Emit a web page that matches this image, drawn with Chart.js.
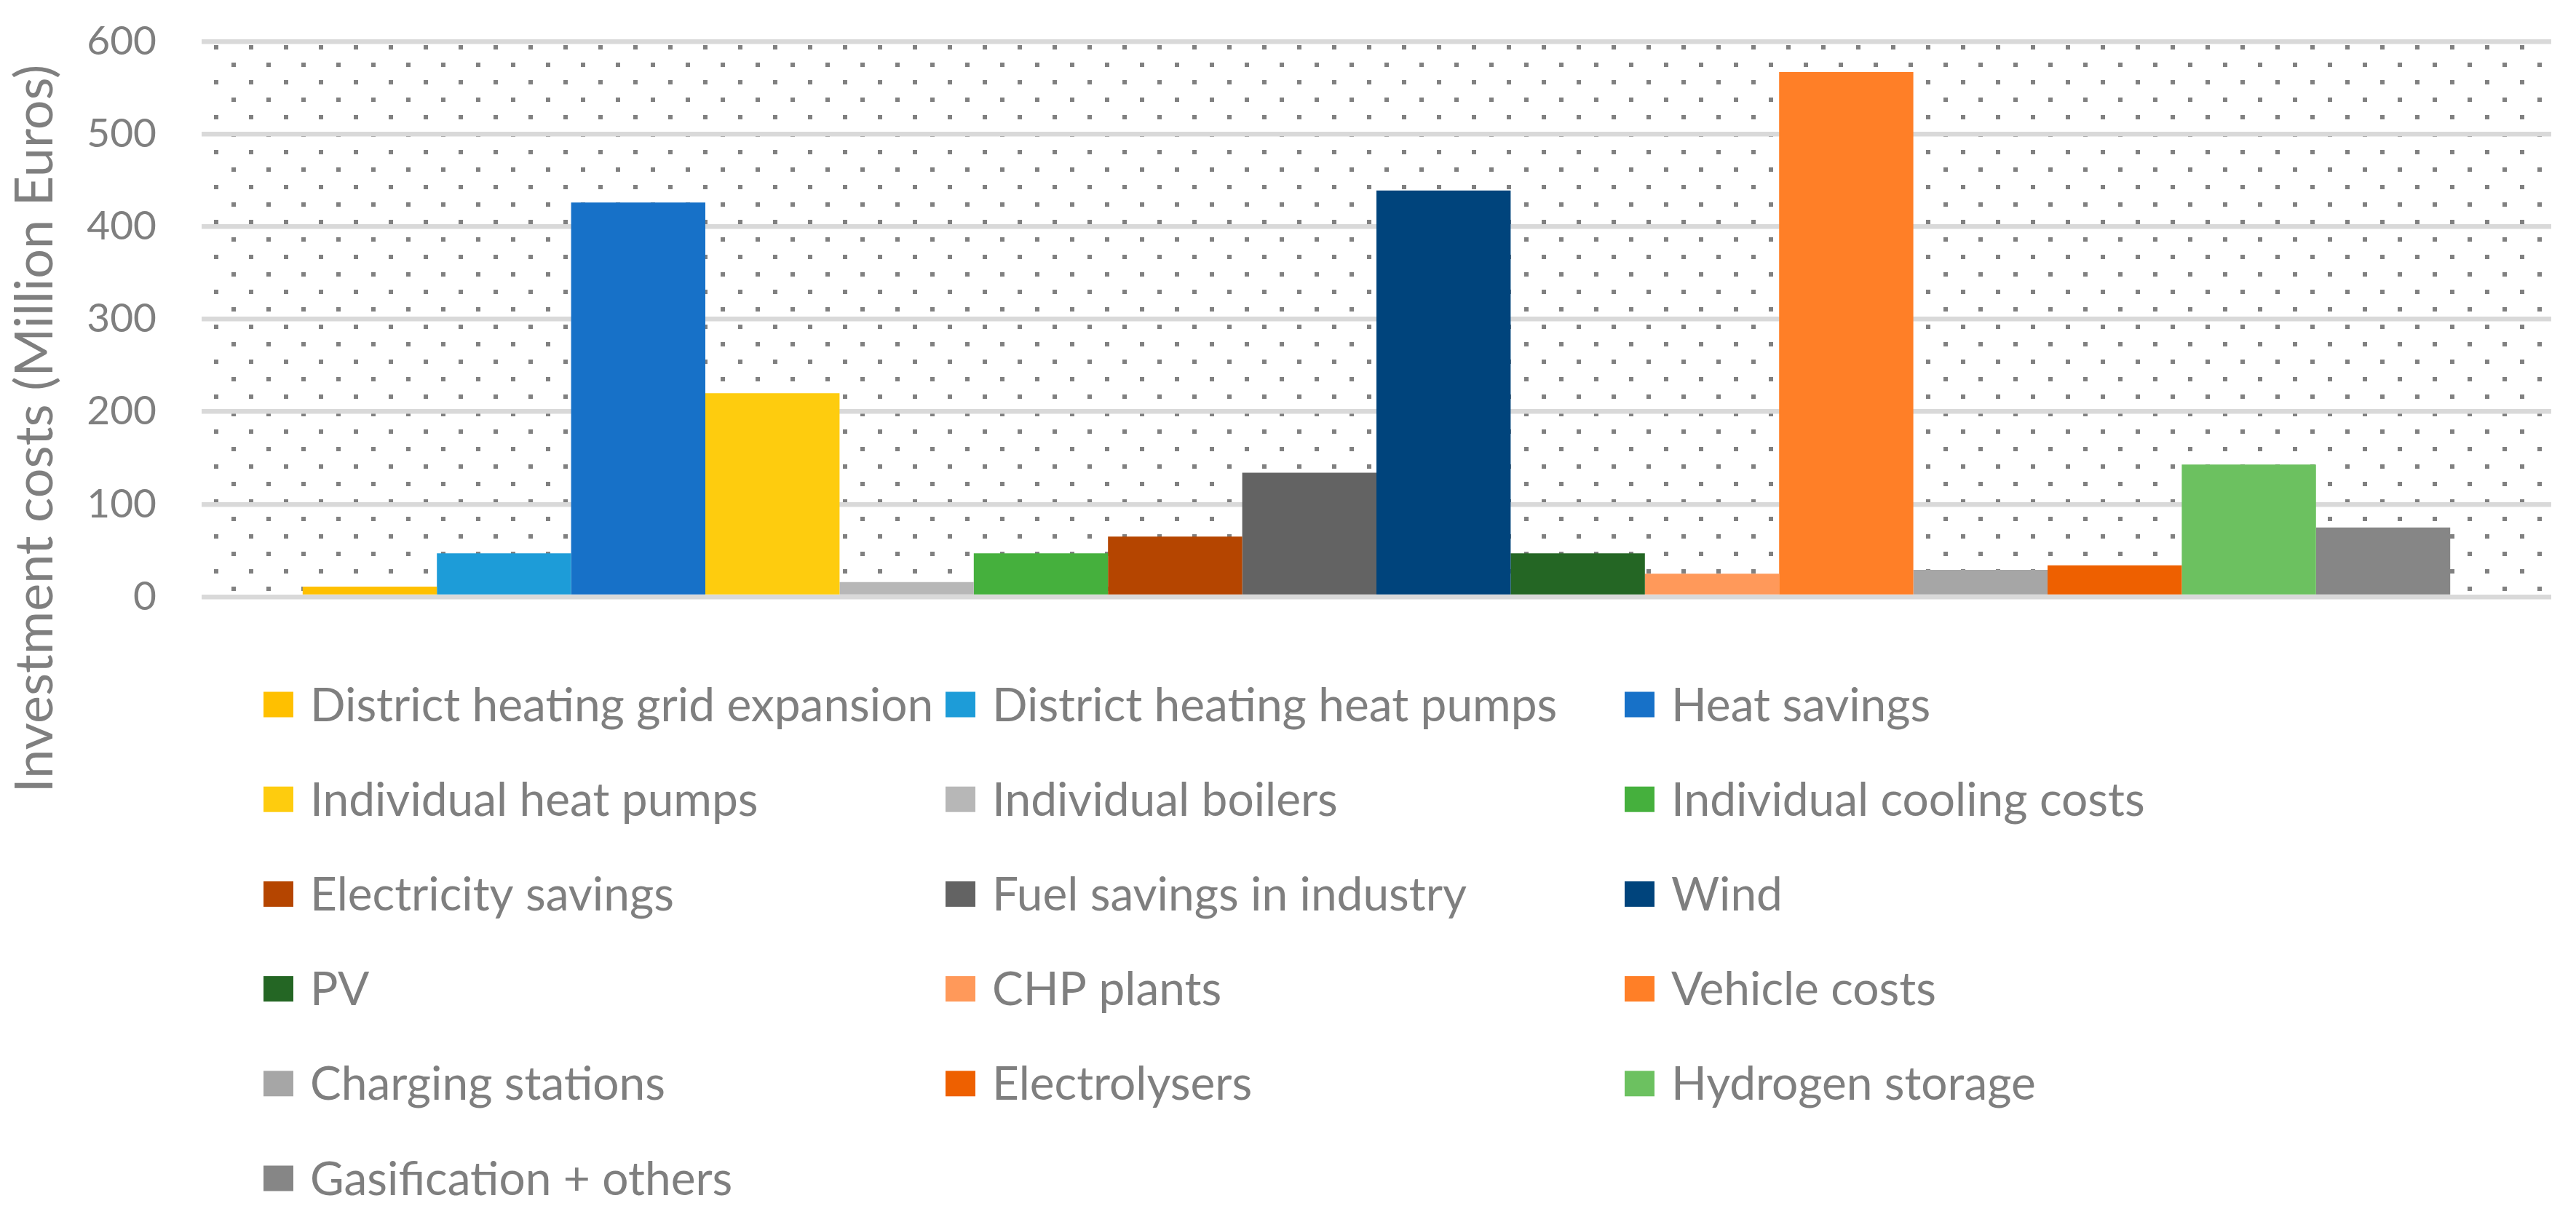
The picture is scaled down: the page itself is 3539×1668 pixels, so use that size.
<!DOCTYPE html>
<html>
<head>
<meta charset="utf-8">
<script src="https://cdn.jsdelivr.net/npm/chart.js@4.4.1/dist/chart.umd.min.js"></script>
<style>
  html, body { margin: 0; padding: 0; background: #ffffff; }
  canvas { display: block; }
</style>
</head>
<body>
<canvas id="chart" width="3539" height="1668"></canvas>
<script>
// ---------------- DATA ----------------
const categories = [""];
const seriesNames = [
  "District heating grid expansion",
  "District heating heat pumps",
  "Heat savings",
  "Individual heat pumps",
  "Individual boilers",
  "Individual cooling costs",
  "Electricity savings",
  "Fuel savings in industry",
  "Wind",
  "PV",
  "CHP plants",
  "Vehicle costs",
  "Charging stations",
  "Electrolysers",
  "Hydrogen storage",
  "Gasification + others"
];
const seriesValues = [11, 47, 426, 220, 16, 47, 65, 134, 439, 47, 25, 567, 29, 34, 143, 75];
const seriesColors = [
  "#FFC000", "#1D9CD8", "#1771C8", "#FECC0E",
  "#B7B7B7", "#45B03D", "#B54500", "#636363",
  "#00447C", "#246624", "#FF995A", "#FF7F27",
  "#A6A6A6", "#EE6000", "#6CC160", "#868686"
];
const yTickValues = [0, 100, 200, 300, 400, 500, 600];
const yAxisTitle = "Investment costs (Million Euros)";

// ---------------- STYLE ----------------
const FONT = 'Lato, "Open Sans", sans-serif';
const TEXT_COLOR = "#7F7F7F";
const GRID_COLOR = "#D9D9D9";
const DOT_COLOR = "#808080";

const datasets = seriesNames.map((name, i) => ({
  label: name,
  data: [seriesValues[i]],
  backgroundColor: seriesColors[i],
  borderWidth: 0,
  barPercentage: 1.0,
  categoryPercentage: 0.914
}));

// dotted plot-area background (drawn beneath grid lines)
const dottedBackground = {
  id: "dottedBackground",
  beforeDraw(chart) {
    const { ctx, chartArea: a } = chart;
    ctx.save();
    ctx.fillStyle = "#ffffff";
    ctx.fillRect(0, 0, chart.width, chart.height);
    ctx.beginPath();
    ctx.rect(a.left, a.top, a.right - a.left, a.bottom - a.top);
    ctx.clip();
    ctx.fillStyle = DOT_COLOR;
    const x0 = a.left + 17, y0 = a.top + 5, step = 48, half = 24, s = 6;
    for (let y = y0; y < a.bottom - 4; y += step) {
      for (let x = x0; x < a.right - 4; x += step) ctx.fillRect(x, y, s, s);
      if (y + half < a.bottom - 4)
        for (let x = x0 + half; x < a.right - 4; x += step) ctx.fillRect(x, y + half, s, s);
    }
    ctx.restore();
  }
};

// three-column legend and rotated axis title
const legendAndTitle = {
  id: "legendAndTitle",
  afterDraw(chart) {
    const ctx = chart.ctx;
    ctx.save();
    ctx.fillStyle = TEXT_COLOR;
    ctx.font = "72px " + FONT;
    ctx.textAlign = "center";
    ctx.textBaseline = "alphabetic";
    ctx.translate(72, 589);
    ctx.rotate(-Math.PI / 2);
    ctx.fillText(yAxisTitle, 0, 0);
    ctx.restore();

    ctx.save();
    const colX = [362, 1299, 2232];
    const row0 = 968, rowH = 130.2, bw = 41, bh = 35, gap = 23;
    ctx.font = "64px " + FONT;
    ctx.textAlign = "left";
    ctx.textBaseline = "middle";
    chart.data.datasets.forEach((ds, i) => {
      const col = i % 3, row = Math.floor(i / 3);
      const x = colX[col], cy = row0 + row * rowH;
      ctx.fillStyle = ds.backgroundColor;
      ctx.fillRect(x, cy - bh / 2, bw, bh);
      ctx.fillStyle = TEXT_COLOR;
      ctx.fillText(ds.label, x + bw + gap, cy + 2);
    });
    ctx.restore();
  }
};

new Chart(document.getElementById("chart"), {
  type: "bar",
  data: { labels: categories, datasets },
  options: {
    responsive: false,
    devicePixelRatio: 1,
    animation: false,
    layout: { padding: { top: 57, right: 34, bottom: 848, left: 0 } },
    plugins: {
      legend: { display: false },
      tooltip: { enabled: false },
      title: { display: false }
    },
    scales: {
      x: {
        display: false,
        grid: { display: false }
      },
      y: {
        min: yTickValues[0],
        max: yTickValues[yTickValues.length - 1],
        afterFit(scale) {
          scale.width = 277;
          scale.paddingTop = 0;
          scale.paddingBottom = 0;
        },
        afterBuildTicks(scale) { scale.ticks = yTickValues.map(v => ({ value: v })); },
        border: { display: false },
        grid: { color: GRID_COLOR, lineWidth: 6.5, drawTicks: false },
        ticks: {
          padding: 62,
          color: TEXT_COLOR,
          font: { family: FONT, size: 55 }
        }
      }
    }
  },
  plugins: [dottedBackground, legendAndTitle]
});
</script>
</body>
</html>
